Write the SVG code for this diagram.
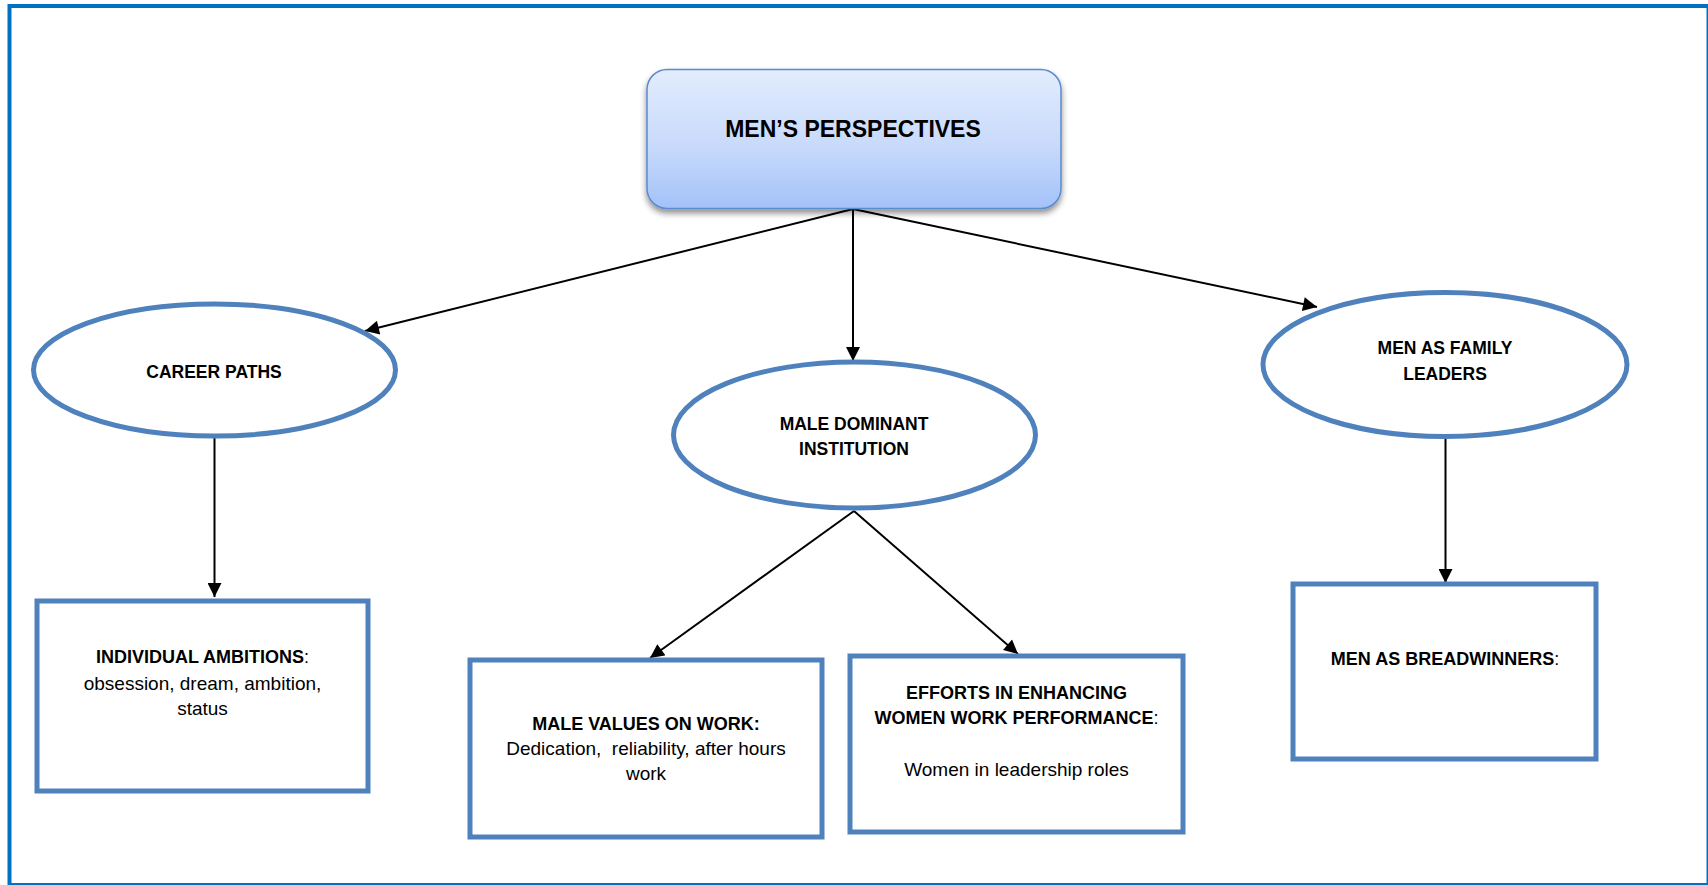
<svg xmlns="http://www.w3.org/2000/svg" width="1708" height="885" viewBox="0 0 1708 885">
<style>
.oval{fill:#ffffff;stroke:#4F81BD;stroke-width:5}
.box{fill:#ffffff;stroke:#4F81BD;stroke-width:5}
.t{font-family:"Liberation Sans",Arial,sans-serif;fill:#000;text-anchor:middle}
.b{font-weight:bold}
.ov{font-size:17.5px}
.bx{font-size:18px}
.rg{font-size:19px}
.con{stroke:#000;stroke-width:2;fill:none;marker-end:url(#arr)}
</style>
<defs>
<linearGradient id="rootGrad" x1="0" y1="0" x2="0" y2="1">
<stop offset="0" stop-color="#E2ECFD"/>
<stop offset="0.55" stop-color="#C8DAFB"/>
<stop offset="1" stop-color="#A3C2F9"/>
</linearGradient>
<filter id="shadow" x="-10%" y="-10%" width="120%" height="130%">
<feGaussianBlur in="SourceAlpha" stdDeviation="3"/>
<feOffset dx="0" dy="4" result="o"/>
<feComponentTransfer><feFuncA type="linear" slope="0.45"/></feComponentTransfer>
<feMerge><feMergeNode/><feMergeNode in="SourceGraphic"/></feMerge>
</filter>
<marker id="arr" viewBox="0 0 10 10" refX="10" refY="5" markerWidth="15" markerHeight="14" markerUnits="userSpaceOnUse" orient="auto">
<path d="M0,0 L10,5 L0,10 z" fill="#000"/>
</marker>
</defs>
<rect x="0" y="0" width="1708" height="885" fill="#ffffff"/>
<rect x="9.5" y="6" width="1699" height="879" fill="none" stroke="#0070C0" stroke-width="4"/>

<g id="connectors">
<line class="con" x1="853" y1="209" x2="365" y2="331"/>
<line class="con" x1="853" y1="209" x2="853" y2="361"/>
<line class="con" x1="853" y1="209" x2="1317" y2="307"/>
<line class="con" x1="214.5" y1="437" x2="214.5" y2="597"/>
<line class="con" x1="854" y1="511" x2="650" y2="658"/>
<line class="con" x1="854" y1="511" x2="1018" y2="654"/>
<line class="con" x1="1445.5" y1="437" x2="1445.5" y2="583"/>
</g>

<g id="root">
<rect x="647" y="69.5" width="414" height="139" rx="20" ry="20" fill="url(#rootGrad)" stroke="#5A8AD0" stroke-width="1.5" filter="url(#shadow)"/>
<text class="t b" x="853" y="137" font-size="23">MEN’S PERSPECTIVES</text>
</g>

<g id="career-paths">
<ellipse class="oval" cx="214.5" cy="370" rx="181" ry="66"/>
<text class="t b ov" x="214" y="378">CAREER PATHS</text>
</g>

<g id="male-dominant">
<ellipse class="oval" cx="854.5" cy="435" rx="181" ry="73"/>
<text class="t b ov" x="854" y="430">MALE DOMINANT</text>
<text class="t b ov" x="854" y="455">INSTITUTION</text>
</g>

<g id="family-leaders">
<ellipse class="oval" cx="1445" cy="364.5" rx="182" ry="72"/>
<text class="t b ov" x="1445" y="354">MEN AS FAMILY</text>
<text class="t b ov" x="1445" y="380">LEADERS</text>
</g>

<g id="individual-ambitions">
<rect class="box" x="37" y="601" width="331" height="190"/>
<text class="t bx" x="202.5" y="663"><tspan class="b">INDIVIDUAL AMBITIONS</tspan>:</text>
<text class="t rg" x="202.5" y="690">obsession, dream, ambition,</text>
<text class="t rg" x="202.5" y="715">status</text>
</g>

<g id="male-values">
<rect class="box" x="470" y="660" width="352" height="177"/>
<text class="t b bx" x="646" y="730">MALE VALUES ON WORK:</text>
<text class="t rg" x="646" y="755" style="white-space:pre">Dedication,  reliability, after hours</text>
<text class="t rg" x="646" y="780">work</text>
</g>

<g id="efforts">
<rect class="box" x="850" y="656" width="333" height="176"/>
<text class="t b bx" x="1016.5" y="699">EFFORTS IN ENHANCING</text>
<text class="t bx" x="1016.5" y="724"><tspan class="b">WOMEN WORK PERFORMANCE</tspan>:</text>
<text class="t rg" x="1016.5" y="776">Women in leadership roles</text>
</g>

<g id="breadwinners">
<rect class="box" x="1293" y="584" width="303" height="175"/>
<text class="t bx" x="1445" y="665"><tspan class="b">MEN AS BREADWINNERS</tspan>:</text>
</g>
</svg>
